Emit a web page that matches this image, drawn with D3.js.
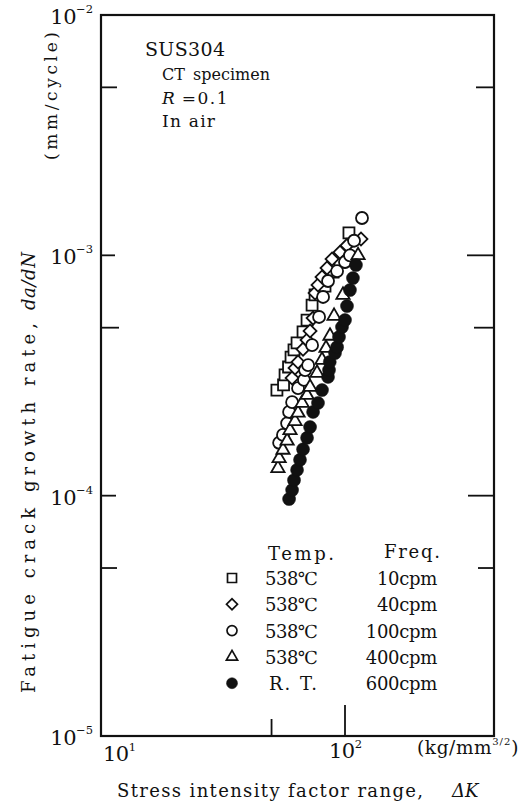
<!DOCTYPE html>
<html>
<head>
<meta charset="utf-8">
<script src="https://cdn.jsdelivr.net/npm/d3@7"></script>
<style>
  body { margin: 0; background: #fff; }
  svg text { font-family: "DejaVu Serif", "Liberation Serif", "Noto Sans CJK JP", serif; fill: #111; }
</style>
</head>
<body>
<div id="chart"></div>
<script>
const width = 530, height = 804;
const margin = {left: 101, right: 36, top: 15, bottom: 68};

// ΔK (kg/mm^3/2) and da/dN (mm/cycle)
const dk10 = [52.6, 56.0, 56.8, 58.7, 60.1, 61.8, 63.6, 67.3, 69.9, 73.3, 75.4, 79.0, 82.8, 89.3, 95.4, 103.8];
const rate10 = [2.75e-4, 2.89e-4, 3.18e-4, 3.43e-4, 3.77e-4, 4.04e-4, 4.32e-4, 4.80e-4, 5.38e-4, 6.21e-4, 6.84e-4, 7.17e-4, 7.45e-4, 8.52e-4, 9.38e-4, 1.24e-3];

const dk40 = [60.7, 62.4, 64.2, 67.3, 69.9, 71.9, 74.0, 75.4, 77.5, 80.5, 84.4, 88.5, 95.4, 101.9, 116.3];
const rate40 = [3.09e-4, 3.40e-4, 3.60e-4, 4.07e-4, 4.44e-4, 4.84e-4, 5.48e-4, 6.97e-4, 7.52e-4, 8.12e-4, 8.85e-4, 9.65e-4, 1.03e-3, 1.10e-3, 1.17e-3];

const dk100 = [53.7, 55.7, 57.9, 59.0, 60.7, 64.2, 67.9, 68.6, 70.6, 73.3, 78.3, 81.3, 85.2, 92.8, 100, 104.8, 108.9, 117.4];
const rate100 = [1.66e-4, 1.79e-4, 2.00e-4, 2.23e-4, 2.45e-4, 2.80e-4, 3.03e-4, 3.33e-4, 3.49e-4, 4.23e-4, 5.54e-4, 6.71e-4, 7.82e-4, 8.60e-4, 9.38e-4, 1.00e-3, 1.15e-3, 1.43e-3];

const dk400 = [53.1, 53.7, 55.7, 57.9, 59.5, 62.4, 64.2, 66.7, 69.9, 71.9, 76.8, 80.5, 83.6, 86.8, 90.2, 98.1, 113.1];
const rate400 = [1.30e-4, 1.43e-4, 1.55e-4, 1.69e-4, 1.87e-4, 2.04e-4, 2.21e-4, 2.43e-4, 2.62e-4, 2.83e-4, 3.24e-4, 3.67e-4, 4.11e-4, 4.62e-4, 5.59e-4, 6.84e-4, 1.00e-3];

const dkRT = [59.0, 60.7, 61.8, 63.6, 65.4, 67.3, 69.9, 71.9, 74.0, 77.5, 80.5, 85.2, 86.0, 86.6, 91.0, 92.8, 94.5, 97.2, 100, 101.9, 104.8, 107.8, 110.9];
const rateRT = [9.68e-5, 1.055e-4, 1.16e-4, 1.28e-4, 1.41e-4, 1.56e-4, 1.74e-4, 1.93e-4, 2.23e-4, 2.43e-4, 2.75e-4, 3.12e-4, 3.33e-4, 3.60e-4, 3.92e-4, 4.15e-4, 4.57e-4, 5.03e-4, 5.38e-4, 6.15e-4, 7.17e-4, 8.04e-4, 9.11e-4];

const temps = ["538℃", "538℃", "538℃", "538℃", "R. T."];
const freqs = ["10cpm", "40cpm", "100cpm", "400cpm", "600cpm"];
const yMajor = [1e-2, 1e-3, 1e-4, 1e-5];
const yMinor = [5e-3, 5e-4, 5e-5];
const xTicks = [50, 100];

const series = [
  {dk: dk10, rate: rate10, shape: "square"},
  {dk: dk40, rate: rate40, shape: "diamond"},
  {dk: dk100, rate: rate100, shape: "circle"},
  {dk: dk400, rate: rate400, shape: "triangle"},
  {dk: dkRT, rate: rateRT, shape: "dot"}
];

const svg = d3.select("#chart").append("svg")
  .attr("width", width).attr("height", height);

const x = d3.scaleLog().domain([10, 408]).range([margin.left, width - margin.right]);
const y = d3.scaleLog().domain([1e-5, 1e-2]).range([height - margin.bottom, margin.top]);
const x0 = margin.left, x1 = width - margin.right, y0 = margin.top, y1 = height - margin.bottom;

// marker path for a shape at a given size
const marker = (shape, s) => {
  if (shape === "square") return d3.symbol(d3.symbolSquare, s * s)();
  if (shape === "diamond") return d3.symbol(d3.symbolSquare, s * s * 0.5)();
  if (shape === "triangle") return d3.symbol(d3.symbolTriangle, s * s * 0.45)();
  return d3.symbol(d3.symbolCircle, Math.PI * (s / 2) * (s / 2))();
};

// frame
svg.append("rect")
  .attr("x", x0).attr("y", y0)
  .attr("width", x1 - x0).attr("height", y1 - y0)
  .attr("fill", "none").attr("stroke", "#111").attr("stroke-width", 2.2);

// inward ticks
const leftLen = {1e-3: 14, 1e-4: 15, 5e-3: 16, 5e-4: 18, 5e-5: 16};
const rightLen = {1e-3: 27, 1e-4: 26, 5e-3: 18, 5e-4: 20, 5e-5: 16};
[1e-3, 1e-4].concat(yMinor).forEach(v => {
  svg.append("line").attr("x1", x0).attr("x2", x0 + leftLen[v])
    .attr("y1", y(v)).attr("y2", y(v)).attr("stroke", "#111").attr("stroke-width", 1.8);
  svg.append("line").attr("x1", x1).attr("x2", x1 - rightLen[v])
    .attr("y1", y(v)).attr("y2", y(v)).attr("stroke", "#111").attr("stroke-width", 1.8);
});
xTicks.forEach(v => {
  svg.append("line").attr("x1", x(v)).attr("x2", x(v))
    .attr("y1", y1).attr("y2", y1 - (v === 100 ? 31 : 17))
    .attr("stroke", "#111").attr("stroke-width", 1.8);
});

// tick labels
const exps = {1e-2: "−2", 1e-3: "−3", 1e-4: "−4", 1e-5: "−5"};
yMajor.forEach(v => {
  const t = svg.append("text").attr("x", x0 - 8).attr("y", y(v) + 9)
    .attr("text-anchor", "end").attr("font-size", 21);
  t.append("tspan").text("10").attr("letter-spacing", -0.5);
  t.append("tspan").text(exps[v]).attr("font-size", 11.5).attr("dy", -11);
});
const xl1 = svg.append("text").attr("x", x(10) + 2).attr("y", y1 + 25).attr("font-size", 21);
xl1.append("tspan").text("10").attr("letter-spacing", -0.5);
xl1.append("tspan").text("1").attr("font-size", 11.5).attr("dy", -10);
const xl2 = svg.append("text").attr("x", x(100) - 16).attr("y", y1 + 22).attr("font-size", 21);
xl2.append("tspan").text("10").attr("letter-spacing", -0.5);
xl2.append("tspan").text("2").attr("font-size", 11.5).attr("dy", -10);

const unit = svg.append("text").attr("x", 417).attr("y", y1 + 18).attr("font-size", 18.5);
unit.append("tspan").text("(kg/mm").attr("letter-spacing", 0.6);
unit.append("tspan").text("3/2").attr("font-size", 10).attr("dy", -9).attr("letter-spacing", 1);
unit.append("tspan").text(")").attr("dy", 9);

// axis titles
svg.append("text").attr("x", 117).attr("y", 797).attr("font-size", 18)
  .attr("textLength", 306).attr("lengthAdjust", "spacing")
  .text("Stress intensity factor range,");
svg.append("text").attr("x", 452).attr("y", 797).attr("font-size", 18)
  .attr("font-style", "italic").text("ΔK");

svg.append("text").attr("transform", "translate(35,693) rotate(-90)").attr("font-size", 18)
  .attr("textLength", 370).attr("lengthAdjust", "spacing")
  .text("Fatigue crack growth rate,");
svg.append("text").attr("transform", "translate(35,310) rotate(-90)").attr("font-size", 18)
  .attr("font-style", "italic").attr("textLength", 58).attr("lengthAdjust", "spacing")
  .text("da/dN");

svg.append("text").attr("transform", "translate(57,160) rotate(-90)")
  .attr("font-size", 17).attr("textLength", 128).attr("lengthAdjust", "spacing")
  .text("(mm/cycle)");

// annotation
svg.append("text").attr("x", 145).attr("y", 56).attr("font-size", 19)
  .attr("textLength", 80).attr("lengthAdjust", "spacing").text("SUS304");
svg.append("text").attr("x", 162).attr("y", 80).attr("font-size", 16)
  .attr("word-spacing", 3).text("CT specimen");
const rr = svg.append("text").attr("x", 162).attr("y", 104).attr("font-size", 17);
rr.append("tspan").text("R").attr("font-style", "italic");
rr.append("tspan").text(" =0.1").attr("letter-spacing", 1.5);
svg.append("text").attr("x", 162).attr("y", 127).attr("font-size", 17)
  .attr("textLength", 53).attr("lengthAdjust", "spacing").text("In  air");

// data points
series.forEach(s => {
  const pts = s.dk.map((d, i) => [d, s.rate[i]]);
  const size = s.shape === "dot" ? 13 : s.shape === "circle" ? 12 : s.shape === "triangle" ? 13 : s.shape === "diamond" ? 13 : 11;
  svg.append("g").selectAll("path")
    .data(pts)
    .join("path")
    .attr("d", marker(s.shape, size))
    .attr("transform", d => `translate(${x(d[0])},${y(d[1])})` + (s.shape === "diamond" ? " rotate(45)" : ""))
    .attr("fill", s.shape === "dot" ? "#111" : "#fff")
    .attr("stroke", "#111")
    .attr("stroke-width", s.shape === "dot" ? 0.5 : 1.8);
});

// legend
const legend = svg.append("g").attr("transform", "translate(232,578)");
legend.append("text").attr("x", 36).attr("y", -18).attr("font-size", 18)
  .attr("textLength", 66).attr("lengthAdjust", "spacing").text("Temp.");
legend.append("text").attr("x", 152).attr("y", -20).attr("font-size", 18)
  .attr("textLength", 56).attr("lengthAdjust", "spacing").text("Freq.");
series.forEach((s, i) => {
  const g = legend.append("g").attr("transform", `translate(0, ${i * 26.3})`);
  const size = s.shape === "dot" ? 11 : s.shape === "circle" ? 10 : s.shape === "triangle" ? 11 : s.shape === "diamond" ? 11 : 9;
  g.append("path").attr("d", marker(s.shape, size))
    .attr("transform", s.shape === "diamond" ? "rotate(45)" : null)
    .attr("fill", s.shape === "dot" ? "#111" : "#fff")
    .attr("stroke", "#111").attr("stroke-width", s.shape === "dot" ? 0.5 : 1.7);
  g.append("text").attr("x", i === 4 ? 37 : 33).attr("y", 7).attr("font-size", 18)
    .attr("letter-spacing", i === 4 ? 2 : -0.5).text(temps[i]);
  g.append("text").attr("x", 205).attr("y", 7).attr("font-size", 18)
    .attr("text-anchor", "end").attr("letter-spacing", -0.3).text(freqs[i]);
});
</script>
</body>
</html>
